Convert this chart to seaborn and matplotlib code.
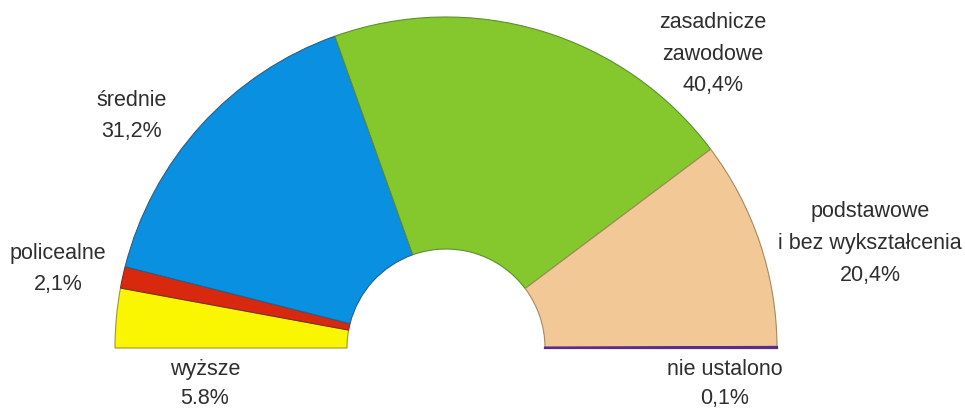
import matplotlib
matplotlib.use("Agg")
import matplotlib.pyplot as plt
import seaborn as sns

categories = ["wyższe", "policealne", "średnie", "zasadnicze\nzawodowe",
              "podstawowe\ni bez wykształcenia", "nie ustalono"]
values = [5.8, 2.1, 31.2, 40.4, 20.4, 0.1]
value_labels = ["5.8%", "2,1%", "31,2%", "40,4%", "20,4%", "0,1%"]
colors = ["#FAF500", "#D8290F", "#0A90E0", "#84C82E", "#F2C896", "#5B2C8A"]
edge_colors = ["#9A9A30", "#8A2A18", "#2A5F8A", "#5E8F2A", "#A88860", "#5B2C8A"]

sns.set_theme(style="white")
plt.rcParams['font.family'] = ['Liberation Sans', 'DejaVu Sans']

W, H = 965, 410
fig = plt.figure(figsize=(W / 100, H / 100), dpi=100)
ax = fig.add_axes([0, 0, 1, 1])
ax.set_xlim(0, W)
ax.set_ylim(0, H)
ax.set_aspect("equal")
ax.axis("off")

cx, cy_pix = 446, 349
R, r_in = 331, 99
total = sum(values)

wedges, _ = ax.pie(values + [total], startangle=180, counterclock=False,
                   center=(cx, H - cy_pix), radius=R,
                   colors=colors + ["none"],
                   wedgeprops=dict(width=R - r_in, linewidth=0.8))
for w, ec in zip(wedges, edge_colors + ["none"]):
    w.set_edgecolor(ec)
wedges[5].set_linewidth(1.6)
wedges[-1].set_visible(False)
ax.set_xlim(0, W)
ax.set_ylim(0, H)

# label layout (pixel centres of first line) and line spacing
label_pos = [(205, 370), (58, 253), (132, 100), (713, 22), (870, 212), (725, 370)]
line_gaps = [29, 32, 32, 32, 32, 29]

for cat, val, (lx, ly), gap in zip(categories, value_labels, label_pos, line_gaps):
    lines = cat.split("\n") + [val]
    for i, line in enumerate(lines):
        ax.text(lx, H - (ly + i * gap), line, ha="center", va="center",
                fontsize=15.5, color="#2E2E2E")

fig.savefig("out.png", dpi=100)
